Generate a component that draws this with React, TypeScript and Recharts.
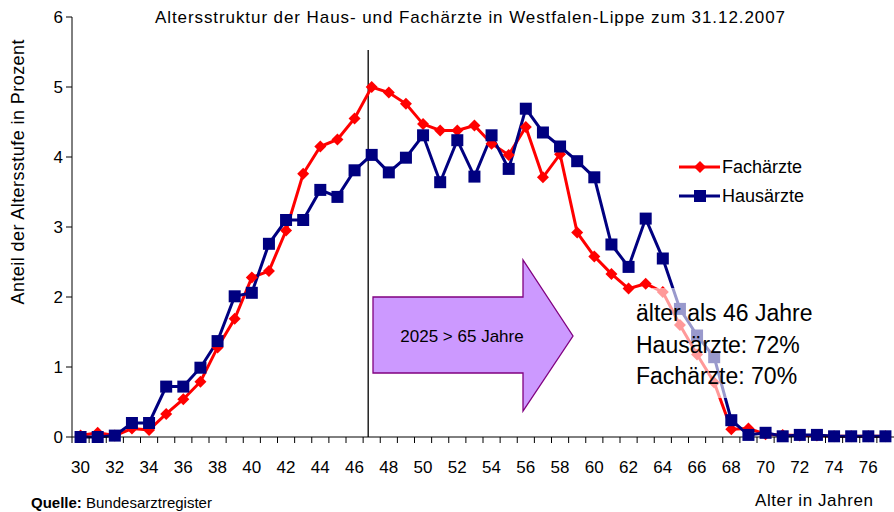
import React from "react";
import {
  LineChart,
  Line,
  XAxis,
  YAxis,
  ReferenceLine,
} from "recharts";

const ages = [
  30, 31, 32, 33, 34, 35, 36, 37, 38, 39, 40, 41, 42, 43, 44, 45, 46, 47, 48, 49, 50, 51, 52, 53,
  54, 55, 56, 57, 58, 59, 60, 61, 62, 63, 64, 65, 66, 67, 68, 69, 70, 71, 72, 73, 74, 75, 76, 77,
];

const fachaerzte = [
  0.02, 0.06, 0.02, 0.12, 0.1, 0.33, 0.54, 0.79, 1.28, 1.69, 2.28, 2.37, 2.95, 3.76, 4.15, 4.25,
  4.55, 5.0, 4.92, 4.76, 4.47, 4.38, 4.38, 4.45, 4.19, 4.03, 4.43, 3.71, 4.04, 2.92, 2.58, 2.33,
  2.12, 2.19, 2.07, 1.6, 1.18, 0.78, 0.11, 0.12, 0.04, 0.03, 0.02, 0.02, 0.01, 0.01, 0.01, 0.01,
];

const hausaerzte = [
  0.0, 0.0, 0.02, 0.2, 0.2, 0.72, 0.72, 0.99, 1.37, 2.01, 2.06, 2.76, 3.1, 3.1, 3.53, 3.43, 3.81,
  4.03, 3.78, 3.99, 4.31, 3.64, 4.24, 3.72, 4.31, 3.83, 4.69, 4.35, 4.15, 3.94, 3.71, 2.75, 2.43,
  3.12, 2.55, 1.83, 1.45, 1.14, 0.24, 0.03, 0.06, 0.01, 0.03, 0.03, 0.01, 0.01, 0.01, 0.01,
];

const yTicks = [0, 1, 2, 3, 4, 5, 6];

const data = ages.map((age, i) => ({
  age,
  fach: fachaerzte[i],
  haus: hausaerzte[i],
}));

const W = 894;
const H = 512;
const LEFT = 72;
const AXIS_Y = 437;
const BAND = (W - LEFT) / ages.length;
const FONT = "'Liberation Sans', Arial, sans-serif";
const RED = "#ff0000";
const NAVY = "#000080";

const XTick = (props: any) => {
  const { x, payload } = props;
  const bx = x - BAND / 2;
  return (
    <g>
      <line x1={bx} y1={AXIS_Y} x2={bx} y2={AXIS_Y + 6} stroke="#000" />
      {payload.value % 2 === 0 && (
        <text x={x} y={AXIS_Y + 36} textAnchor="middle" fontSize={17} fontFamily={FONT} fill="#000">
          {payload.value}
        </text>
      )}
    </g>
  );
};

const Diamond = (props: any) => {
  const { cx, cy } = props;
  if (cx == null || cy == null) return null;
  const r = 6;
  return (
    <polygon
      points={`${cx},${cy - r} ${cx + r},${cy} ${cx},${cy + r} ${cx - r},${cy}`}
      fill={RED}
    />
  );
};

const Square = (props: any) => {
  const { cx, cy } = props;
  if (cx == null || cy == null) return null;
  return <rect x={cx - 6} y={cy - 6} width={12} height={12} fill={NAVY} />;
};

export default function App() {
  return (
    <div style={{ position: "absolute", left: 0, top: 0, width: W, height: H, background: "#fff" }}>
      <LineChart
        width={W}
        height={H}
        data={data}
        margin={{ top: 17, right: 0, left: 0, bottom: 45 }}
      >
        <XAxis
          dataKey="age"
          scale="band"
          interval={0}
          height={30}
          tickLine={false}
          axisLine={{ stroke: "#000" }}
          tick={<XTick />}
        />
        <YAxis
          width={LEFT}
          domain={[0, 6]}
          ticks={yTicks}
          tickSize={6}
          tickMargin={3}
          axisLine={{ stroke: "#000" }}
          tickLine={{ stroke: "#000" }}
          tick={{ fontSize: 17, fontFamily: FONT, fill: "#000" }}
        />
        <ReferenceLine
          segment={[
            { x: 47, y: 0 },
            { x: 47, y: 5.53 },
          ]}
          stroke="#000"
          strokeWidth={1.3}
          shape={(p: any) => (
            <line x1={p.x1 - 3.5} y1={p.y1} x2={p.x2 - 3.5} y2={p.y2} stroke="#000" strokeWidth={1.3} />
          )}
        />
        <Line
          dataKey="fach"
          stroke={RED}
          strokeWidth={3}
          isAnimationActive={false}
          dot={(p: any) => <Diamond key={`f${p.index}`} {...p} />}
          activeDot={false}
        />
        <Line
          dataKey="haus"
          stroke={NAVY}
          strokeWidth={3}
          isAnimationActive={false}
          dot={(p: any) => <Square key={`h${p.index}`} {...p} />}
          activeDot={false}
        />
      </LineChart>

      <svg
        width={W}
        height={H}
        style={{ position: "absolute", left: 0, top: 0, pointerEvents: "none" }}
        fontFamily={FONT}
      >
        {/* title */}
        <text x={470} y={23} textAnchor="middle" fontSize={17} textLength={630} fill="#000">
          Altersstruktur der Haus- und Fachärzte in Westfalen-Lippe zum 31.12.2007
        </text>

        {/* y axis title */}
        <text
          x={0}
          y={0}
          transform="translate(24,172) rotate(-90)"
          textAnchor="middle"
          fontSize={18}
          textLength={265}
          fill="#000"
        >
          Anteil der Altersstufe in Prozent
        </text>

        {/* x axis title */}
        <text x={814} y={506} textAnchor="middle" fontSize={17} textLength={118} fill="#000">
          Alter in Jahren
        </text>

        {/* source */}
        <text x={31} y={508} fontSize={15} fill="#000">
          <tspan fontWeight="bold">Quelle:</tspan> Bundesarztregister
        </text>

        {/* legend */}
        <line x1={679} y1={167} x2={720} y2={167} stroke={RED} strokeWidth={3} />
        <polygon points="700,161 706,167 700,173 694,167" fill={RED} />
        <text x={722} y={173} fontSize={18} fill="#000">Fachärzte</text>
        <line x1={679} y1={196} x2={720} y2={196} stroke={NAVY} strokeWidth={3} />
        <rect x={694} y={190} width={12} height={12} fill={NAVY} />
        <text x={722} y={202} fontSize={18} fill="#000">Hausärzte</text>

        {/* arrow */}
        <polygon
          points="373,297 523,297 523,260 573,336 523,411 523,373 373,373"
          fill="#cc99ff"
          stroke="#800080"
          strokeWidth={1.3}
        />
        <text x={462} y={342} textAnchor="middle" fontSize={17} fill="#000">
          2025 &gt; 65 Jahre
        </text>

        {/* annotation box */}
        <rect x={652} y={288} width={218} height={110} fill="#fff" fillOpacity={0.6} />
        <text x={636} y={321} fontSize={23} fill="#000">älter als 46 Jahre</text>
        <text x={636} y={353} fontSize={23} fill="#000">Hausärzte: 72%</text>
        <text x={636} y={384} fontSize={23} fill="#000">Fachärzte: 70%</text>
      </svg>
    </div>
  );
}
